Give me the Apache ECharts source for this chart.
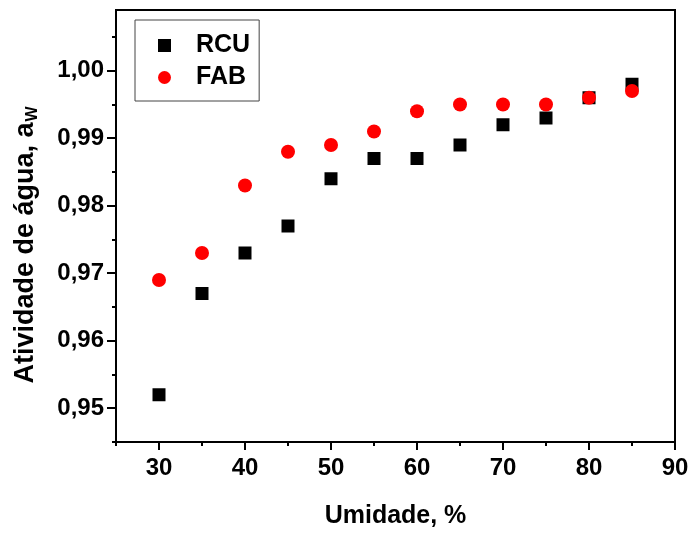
<!DOCTYPE html>
<html>
<head>
<meta charset="utf-8">
<script src="https://cdn.jsdelivr.net/npm/echarts@6/dist/echarts.min.js"></script>
<style>
  html, body { margin: 0; padding: 0; background: #fff; }
  #chart { width: 692px; height: 534px; }
</style>
</head>
<body>
<div id="chart"></div>
<script>
var umidade = [30, 35, 40, 45, 50, 55, 60, 65, 70, 75, 80, 85];
var rcu = [0.952, 0.967, 0.973, 0.977, 0.984, 0.987, 0.987, 0.989, 0.992, 0.993, 0.996, 0.998];
var fab = [0.969, 0.973, 0.983, 0.988, 0.989, 0.991, 0.994, 0.995, 0.995, 0.995, 0.996, 0.997];
var yLabels = [0.95, 0.96, 0.97, 0.98, 0.99, 1.00];
var yMinor = [0.945, 0.955, 0.965, 0.975, 0.985, 0.995, 1.005];
var xLabels = [30, 40, 50, 60, 70, 80, 90];
var xMinor = [25, 35, 45, 55, 65, 75, 85];

var fonte = 'Liberation Sans, Arial, sans-serif';

function pares(xs, ys) {
    var out = [];
    for (var i = 0; i < xs.length; i++) {
        out.push([xs[i], ys[i]]);
    }
    return out;
}

var myChart = echarts.init(document.getElementById('chart'));

var option = {
    backgroundColor: '#fff',
    animation: false,
    grid: {
        left: 116, right: 17, top: 10, bottom: 89,
        show: true, borderColor: '#000', borderWidth: 2
    },
    legend: {
        orient: 'vertical',
        left: 135, top: 20,
        padding: [13, 9, 11, 23],
        itemGap: 7,
        itemWidth: 13, itemHeight: 13,
        borderColor: '#444', borderWidth: 1,
        textStyle: {
            fontFamily: fonte, fontWeight: 'bold', fontSize: 25, color: '#000',
            lineHeight: 24, padding: [0, 0, 0, 20]
        },
        data: [{name: 'RCU', icon: 'rect'}, {name: 'FAB', icon: 'circle'}]
    },
    xAxis: [{
        type: 'value', min: 25, max: 90, interval: 5,
        splitLine: {show: false},
        axisLine: {lineStyle: {color: '#000', width: 2}},
        axisTick: {customValues: xLabels, length: 8, lineStyle: {color: '#000', width: 2}},
        axisLabel: {
            customValues: xLabels, margin: 14,
            fontFamily: fonte, fontWeight: 'bold', fontSize: 24, color: '#000'
        },
        name: 'Umidade, %', nameLocation: 'middle', nameGap: 62,
        nameTextStyle: {fontFamily: fonte, fontWeight: 'bold', fontSize: 25, color: '#000'}
    }, {
        type: 'value', min: 25, max: 90, position: 'bottom',
        splitLine: {show: false},
        axisLine: {show: false},
        axisTick: {customValues: xMinor, length: 4, lineStyle: {color: '#000', width: 2}},
        axisLabel: {show: false}
    }],
    yAxis: [{
        type: 'value', min: 0.945, max: 1.009,
        splitLine: {show: false},
        axisLine: {lineStyle: {color: '#000', width: 2}},
        axisTick: {customValues: yLabels, length: 9, lineStyle: {color: '#000', width: 2}},
        axisLabel: {
            customValues: yLabels, margin: 12,
            fontFamily: fonte, fontWeight: 'bold', fontSize: 24, color: '#000',
            formatter: function (v) { return v.toFixed(2).replace('.', ','); }
        },
        name: '{a|Atividade de água, a}{s|W}',
        nameLocation: 'middle', nameGap: 75, nameRotate: 90,
        nameTextStyle: {
            rich: {
                a: {fontFamily: fonte, fontWeight: 'bold', fontSize: 27, color: '#000'},
                s: {fontFamily: fonte, fontWeight: 'bold', fontSize: 16, color: '#000', padding: [14, 38, 0, 1]}
            }
        }
    }, {
        type: 'value', min: 0.945, max: 1.009, position: 'left',
        splitLine: {show: false},
        axisLine: {show: false},
        axisTick: {customValues: yMinor, length: 4, lineStyle: {color: '#000', width: 2}},
        axisLabel: {show: false}
    }],
    series: [{
        name: 'RCU',
        type: 'scatter',
        symbol: 'rect',
        symbolSize: 13,
        itemStyle: {color: '#000', opacity: 1},
        data: pares(umidade, rcu)
    }, {
        name: 'FAB',
        type: 'scatter',
        symbol: 'circle',
        symbolSize: 14,
        itemStyle: {color: '#ff0000', opacity: 1},
        data: pares(umidade, fab)
    }]
};

myChart.setOption(option);
</script>
</body>
</html>
